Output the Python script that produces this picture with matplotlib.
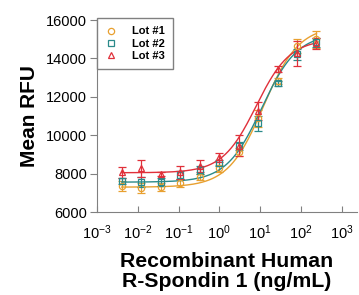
import numpy as np
import matplotlib
matplotlib.use("Agg")
import matplotlib.pyplot as plt

plt.rcParams['font.family'] = ['Liberation Sans', 'DejaVu Sans']
plt.rcParams['mathtext.fontset'] = 'custom'
plt.rcParams['mathtext.rm'] = 'Liberation Sans'

# concentrations (ng/mL), 3-fold dilution series
conc = [240, 80, 26.7, 8.89, 2.96, 0.988, 0.329, 0.110, 0.0366, 0.0122, 0.00406]

lot1 = [14990, 14646, 12840, 10880, 9141, 8276, 7839, 7526, 7318, 7266, 7370]
lot1_err = [450, 350, 150, 450, 200, 200, 150, 200, 200, 250, 250]
lot2 = [14835, 14210, 12700, 10620, 9453, 8568, 8187, 7927, 7563, 7563, 7615]
lot2_err = [250, 300, 150, 400, 200, 150, 200, 200, 200, 250, 150]
lot3 = [14786, 14262, 13448, 11260, 9453, 8849, 8412, 8068, 7963, 8276, 8068]
lot3_err = [300, 650, 150, 450, 550, 250, 300, 350, 100, 450, 300]

# 4PL fit parameters: bottom, top, EC50, hill
fit1 = [7300, 15700, 12.0, 1.0]
fit2 = [7560, 15300, 11.0, 1.0]
fit3 = [8050, 15000, 8.0, 1.05]

names = ['Lot #1', 'Lot #2', 'Lot #3']
colors = ['#E8A030', '#2A8A8A', '#E0303A']
markers = ['o', 's', '^']


def four_pl(x, p):
    b, t, c, h = p
    return b + (t - b) / (1 + (c / x) ** h)


fig = plt.figure(figsize=(3.59, 2.95), dpi=100)
ax = fig.add_axes([0.270, 0.281, 0.724, 0.651])

xs = np.logspace(np.log10(min(conc)), np.log10(max(conc)), 200)
for y, e, p, name, c, m in zip([lot1, lot2, lot3], [lot1_err, lot2_err, lot3_err],
                               [fit1, fit2, fit3], names, colors, markers):
    ax.plot(xs, four_pl(xs, p), color=c, lw=1.0)
    ax.errorbar(conc, y, yerr=e, fmt=m, mfc='none', mec=c, ecolor=c, color=c,
                ms=4.5, mew=0.9, elinewidth=0.9, capsize=3, capthick=0.9, label=name)

ax.set_xscale('log')
ax.set_xlim(1e-3, 10 ** 3.37)
ax.set_ylim(6000, 16000)
ax.set_xticks([1e-3, 1e-2, 1e-1, 1e0, 1e1, 1e2, 1e3])
ax.set_yticks([6000, 8000, 10000, 12000, 14000, 16000])
ax.tick_params(axis='y', direction='out', length=5, color='#808080', labelsize=10.5, pad=2)
ax.tick_params(axis='x', which='major', direction='in', length=4, color='#808080', labelsize=10.5, pad=8)
ax.tick_params(axis='x', which='minor', direction='in', length=2, color='#808080')
for s in ['top', 'right']:
    ax.spines[s].set_visible(False)
for s in ['left', 'bottom']:
    ax.spines[s].set_color('#808080')

ax.set_ylabel('Mean RFU', fontsize=15, fontweight='bold', labelpad=5)
ax.set_xlabel('Recombinant Human\nR-Spondin 1 (ng/mL)', fontsize=15.3, fontweight='bold',
              labelpad=7, linespacing=1.1)

handles, labels = ax.get_legend_handles_labels()
handles = [h[0] for h in handles]
leg = ax.legend(handles, labels, loc='upper left', bbox_to_anchor=(0.0, 1.01),
                prop={'weight': 'bold', 'size': 8}, fancybox=False, edgecolor='#808080',
                framealpha=1, handletextpad=1.4, borderpad=0.75, labelspacing=0.2,
                handlelength=1.0, borderaxespad=0.0)
leg.get_frame().set_linewidth(1.0)

fig.savefig('out.png', dpi=100)
